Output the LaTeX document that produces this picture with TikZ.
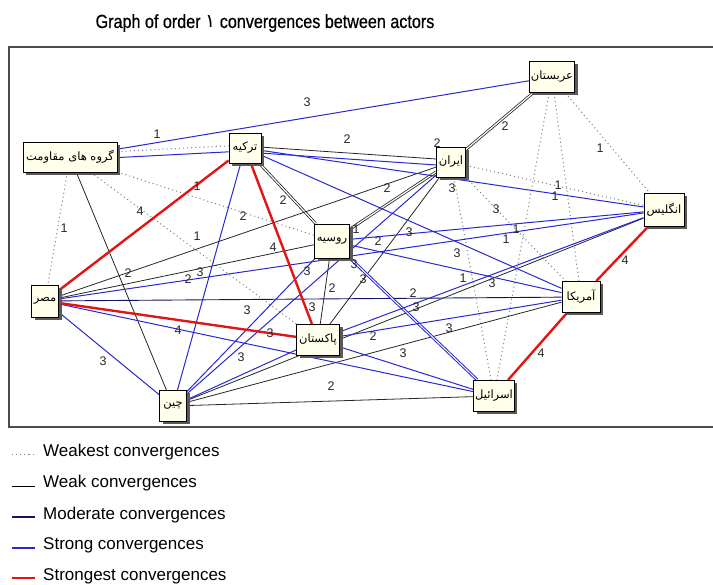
\documentclass[tikz,border=0pt]{standalone}
\usepackage{fontspec}
\setmainfont{Liberation Sans}
\newfontfamily\fa[Script=Arabic]{DejaVu Sans}
\newfontfamily\titlefont[FakeStretch=0.85,FakeBold=0.6]{Liberation Sans}
\TeXXeTstate=1
\usetikzlibrary{shadows}
\pgfdeclarelayer{edges}
\pgfsetlayers{edges,main}
\definecolor{cream}{RGB}{255,255,236}
\definecolor{strongblue}{RGB}{40,40,210}
\definecolor{navyc}{RGB}{20,20,100}
\definecolor{redc}{RGB}{228,20,20}
\definecolor{dotgray}{RGB}{130,130,130}
\begin{document}
\begin{tikzpicture}[x=1pt,y=-1pt,
  box/.style={draw=black, line width=0.9pt, fill=cream, inner sep=1.5pt,
    minimum height=31pt, font=\fa\fontsize{11.5}{13}\selectfont,
    drop shadow={shadow xshift=3pt, shadow yshift=-3pt, opacity=1, fill=black!65}},
  lbl/.style={font=\fontsize{12.5}{13}\selectfont, text=black!85, inner sep=0pt},
  legtext/.style={font=\fontsize{17}{20}\selectfont, anchor=base west, inner sep=0pt},
  weakest/.style={draw=dotgray, line width=1pt, dash pattern=on 1.1pt off 3pt},
  weak/.style={draw=black!85, line width=0.8pt},
  moderate/.style={draw=navyc, line width=0.9pt},
  strong/.style={draw=strongblue, line width=1pt},
  strongest/.style={draw=redc, line width=2.4pt},
  frame/.style={draw=black!70, line width=1.5pt}]
\useasboundingbox (0,0) rectangle (713,585);

% title
\node[font=\titlefont\fontsize{19}{22}\selectfont, anchor=base] (title) at (265,28)
  {Graph of order {\fa ۱} convergences between actors};

% frame
\draw[frame] (9,47) rectangle (720,427);

% actors
\node[box, minimum width=43pt] (A) at (552,77) {\beginR عربستان\endR};
\node[box, minimum width=94pt, minimum height=30pt] (G) at (70,157) {\beginR گروه های مقاومت\endR};
\node[box, minimum width=32pt, minimum height=30pt] (T) at (245,148) {\beginR ترکیه\endR};
\node[box, minimum width=29pt, minimum height=30pt] (I) at (451,162) {\beginR ایران\endR};
\node[box, minimum width=40pt, minimum height=33pt] (E) at (664,210) {\beginR انگلیس\endR};
\node[box, minimum width=35pt, minimum height=34pt] (R) at (332,241) {\beginR روسیه\endR};
\node[box, minimum width=27pt, minimum height=32pt] (M) at (45,301) {\beginR مصر\endR};
\node[box, minimum width=38pt] (U) at (581,297) {\beginR آمریکا\endR};
\node[box, minimum width=43pt] (P) at (318,340) {\beginR پاکستان\endR};
\node[box, minimum width=27pt] (C) at (173,406) {\beginR چین\endR};
\node[box, minimum width=40pt] (S) at (494,396) {\beginR اسرائیل\endR};

\begin{pgfonlayer}{edges}
% weakest
\draw[weakest, transform canvas={yshift=3pt}] (G) -- (T);
\draw[weakest] (G) -- (M);
\draw[weakest] (G) -- (R);
\draw[weakest] (G) -- (P);
\draw[weakest] (A) -- (E);
\draw[weakest] (A) -- (U);
\draw[weakest] (A) -- (S);
\draw[weakest] (I) -- (E);
\draw[weakest] (I) -- (U);
\draw[weakest] (I) -- (S);
% weak
\draw[weak, double, double distance=1.2pt] (A) -- (I);
\draw[weak, double, double distance=1.2pt] (I) -- (R);
\draw[weak, transform canvas={yshift=2pt}] (T) -- (I);
\draw[weak, double, double distance=1.2pt] (T) -- (R);
\draw[weak] (G) -- (C);
\draw[weak] (M) -- (I);
\draw[weak] (M) -- (R);
\draw[weak] (I) -- (P);
\draw[weak] (R) -- (P);
\draw[weak] (C) -- (U);
\draw[weak] (C) -- (S);
\draw[weak] (C) -- (E);
% moderate
\draw[moderate] (M) -- (U);
% strong
\draw[strong] (G) -- (A);
\draw[strong, transform canvas={yshift=-3pt}] (G) -- (T);
\draw[strong, transform canvas={yshift=-4pt}] (T) -- (I);
\draw[strong] (T) -- (E);
\draw[strong] (T) -- (U);
\draw[strong] (T) -- (C);
\draw[strong] (I) -- (C);
\draw[strong] (M) -- (E);
\draw[strong] (M) -- (S);
\draw[strong] (M) -- (C);
\draw[strong] (R) -- (E);
\draw[strong] (R) -- (U);
\draw[strong, double, double distance=1pt] (R) -- (S);
\draw[strong] (R) -- (C);
\draw[strong] (P) -- (E);
\draw[strong] (P) -- (U);
\draw[strong] (P) -- (S);
\draw[strong] (P) -- (C);
% strongest
\draw[strongest] (M) -- (T);
\draw[strongest] (T) -- (P);
\draw[strongest] (M) -- (P);
\draw[strongest] (E) -- (U);
\draw[strongest] (U) -- (S);

% labels
\node[lbl] (l1) at (307,102) {3};
\node[lbl] (l2) at (157,134) {1};
\node[lbl] (l3) at (347,139) {2};
\node[lbl] (l4) at (437,143) {2};
\node[lbl] (l5) at (505,126) {2};
\node[lbl] (l6) at (600,148) {1};
\node[lbl] (l7) at (197,186) {1};
\node[lbl] (l8) at (452,188) {3};
\node[lbl] (l9) at (387,188) {2};
\node[lbl] (l10) at (558,185) {1};
\node[lbl] (l11) at (555,196) {1};
\node[lbl] (l12) at (283,200) {2};
\node[lbl] (l13) at (496,209) {3};
\node[lbl] (l14) at (140,211) {4};
\node[lbl] (l15) at (243,216) {2};
\node[lbl] (l16) at (64,228) {1};
\node[lbl] (l17) at (356,229) {1};
\node[lbl] (l18) at (409,232) {3};
\node[lbl] (l19) at (506,239) {1};
\node[lbl] (l20) at (516,229) {1};
\node[lbl] (l21) at (197,236) {1};
\node[lbl] (l22) at (378,241) {2};
\node[lbl] (l23) at (273,247) {4};
\node[lbl] (l24) at (457,253) {3};
\node[lbl] (l25) at (625,260) {4};
\node[lbl] (l26) at (354,264) {3};
\node[lbl] (l27) at (307,271) {3};
\node[lbl] (l28) at (200,272) {3};
\node[lbl] (l29) at (128,273) {2};
\node[lbl] (l30) at (188,279) {2};
\node[lbl] (l31) at (463,278) {1};
\node[lbl] (l32) at (363,279) {3};
\node[lbl] (l33) at (492,283) {3};
\node[lbl] (l34) at (332,288) {2};
\node[lbl] (l35) at (413,293) {2};
\node[lbl] (l36) at (312,307) {3};
\node[lbl] (l37) at (416,307) {3};
\node[lbl] (l38) at (247,310) {3};
\node[lbl] (l39) at (449,328) {3};
\node[lbl] (l40) at (178,330) {4};
\node[lbl] (l41) at (270,333) {3};
\node[lbl] (l42) at (373,336) {2};
\node[lbl] (l43) at (403,353) {3};
\node[lbl] (l44) at (541,353) {4};
\node[lbl] (l45) at (241,357) {3};
\node[lbl] (l46) at (103,361) {3};
\node[lbl] (l47) at (331,386) {2};
\end{pgfonlayer}

% legend
\draw[weakest] (12,455) -- (33,455);
\node[legtext] (k1) at (43,457) {Weakest convergences};
\draw[draw=black, line width=1pt] (12,487) -- (35,487);
\node[legtext] (k2) at (43,488) {Weak convergences};
\draw[draw=navyc, line width=1.2pt] (12,517) -- (35,517);
\node[legtext] (k3) at (43,519) {Moderate convergences};
\draw[draw=strongblue, line width=2pt] (12,548) -- (35,548);
\node[legtext] (k4) at (43,550) {Strong convergences};
\draw[draw=redc, line width=2pt] (12,578) -- (35,578);
\node[legtext] (k5) at (43,580) {Strongest convergences};
\end{tikzpicture}
\end{document}
